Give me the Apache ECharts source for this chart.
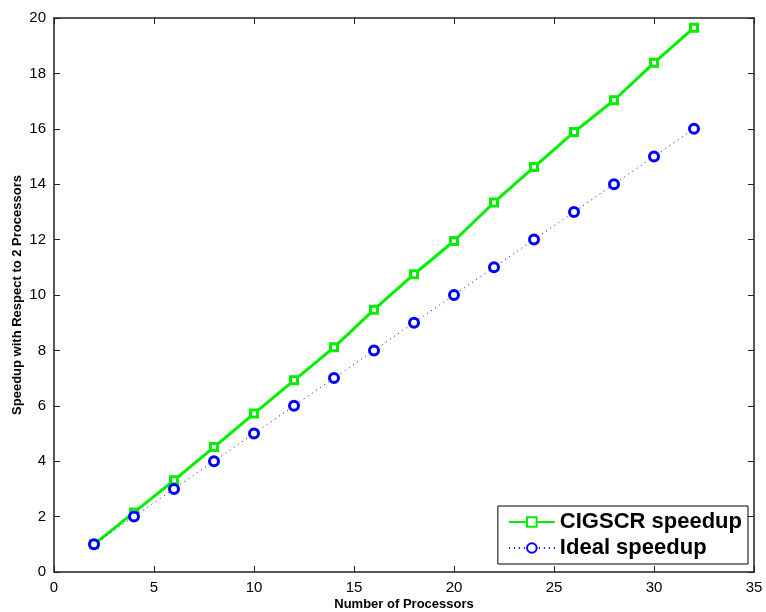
<!DOCTYPE html>
<html>
<head>
<meta charset="utf-8">
<script src="https://cdn.jsdelivr.net/npm/echarts@6/dist/echarts.min.js"></script>
<style>
html, body { margin: 0; padding: 0; background: #fff; }
#chart { width: 766px; height: 612px; }
</style>
</head>
<body>
<div id="chart"></div>
<script>
// processors and speedups
var procs = [2, 4, 6, 8, 10, 12, 14, 16, 18, 20, 22, 24, 26, 28, 30, 32];
var cigscr = [1.0, 2.15, 3.31, 4.51, 5.72, 6.92, 8.11, 9.47, 10.75, 11.95, 13.34, 14.62, 15.88, 17.03, 18.38, 19.65];
var ideal = [1, 2, 3, 4, 5, 6, 7, 8, 9, 10, 11, 12, 13, 14, 15, 16];

function pairs(xs, ys) {
	var out = [];
	for (var i = 0; i < xs.length; i++) out.push([xs[i], ys[i]]);
	return out;
}

var axisFont = { color: '#000', fontFamily: 'Liberation Sans, Arial', fontSize: 15, margin: 8 };
var axisLine = { show: true, onZero: false, lineStyle: { color: '#222', width: 1.5 } };
var tick = { show: true, inside: true, length: 6, lineStyle: { color: '#222', width: 1 } };

var option = {
	animation: false,
	backgroundColor: '#fff',
	grid: { left: 54, right: 12, top: 18, bottom: 40, outerBoundsMode: 'none', containLabel: false },
	xAxis: [{
		type: 'value', min: 0, max: 35, interval: 5,
		axisLine: axisLine, axisTick: tick, splitLine: { show: false },
		axisLabel: axisFont,
		name: 'Number of Processors', nameLocation: 'middle', nameGap: 26, nameMoveOverlap: false,
		nameTextStyle: { color: '#000', fontFamily: 'Liberation Sans, Arial', fontWeight: 'bold', fontSize: 13 }
	}, {
		type: 'value', position: 'top', min: 0, max: 35, interval: 5,
		axisLine: axisLine, axisTick: tick, axisLabel: { show: false }, splitLine: { show: false }
	}],
	yAxis: [{
		type: 'value', min: 0, max: 20, interval: 2,
		axisLine: axisLine, axisTick: tick, splitLine: { show: false },
		axisLabel: axisFont,
		name: 'Speedup with Respect to 2 Processors', nameLocation: 'middle', nameGap: 30, nameMoveOverlap: false,
		nameTextStyle: { color: '#000', fontFamily: 'Liberation Sans, Arial', fontWeight: 'bold', fontSize: 13 }
	}, {
		type: 'value', position: 'right', min: 0, max: 20, interval: 2,
		axisLine: axisLine, axisTick: tick, axisLabel: { show: false }, splitLine: { show: false }
	}],
	legend: {
		orient: 'vertical', right: 18, bottom: 48,
		backgroundColor: '#fff', borderColor: '#000', borderWidth: 1, borderRadius: 0,
		padding: [5, 6, 5, 10], itemGap: 4, itemWidth: 46, itemHeight: 12,
		textStyle: { color: '#000', fontFamily: 'Liberation Sans, Arial', fontWeight: 'bold', fontSize: 22, padding: [0, 0, 0, 0] },
		data: ['CIGSCR speedup', 'Ideal speedup']
	},
	series: [{
		name: 'CIGSCR speedup', type: 'line',
		data: pairs(procs, cigscr),
		symbol: 'rect', symbolSize: 7,
		lineStyle: { color: '#00ee00', width: 3 },
		itemStyle: { color: '#ffffff', borderColor: '#00ee00', borderWidth: 3 },
		z: 3
	}, {
		name: 'Ideal speedup', type: 'line',
		data: pairs(procs, ideal),
		symbol: 'circle', symbolSize: 9,
		lineStyle: { color: '#0000ff', width: 1, type: [1, 4] },
		itemStyle: { color: '#ffffff', borderColor: '#0000ff', borderWidth: 3 },
		z: 4
	}, {
		// empty series so the mirrored top/right axes get drawn
		name: 'box', type: 'line', xAxisIndex: 1, yAxisIndex: 1, data: [],
		silent: true
	}]
};

var myChart = echarts.init(document.getElementById('chart'));
myChart.setOption(option);
</script>
</body>
</html>
